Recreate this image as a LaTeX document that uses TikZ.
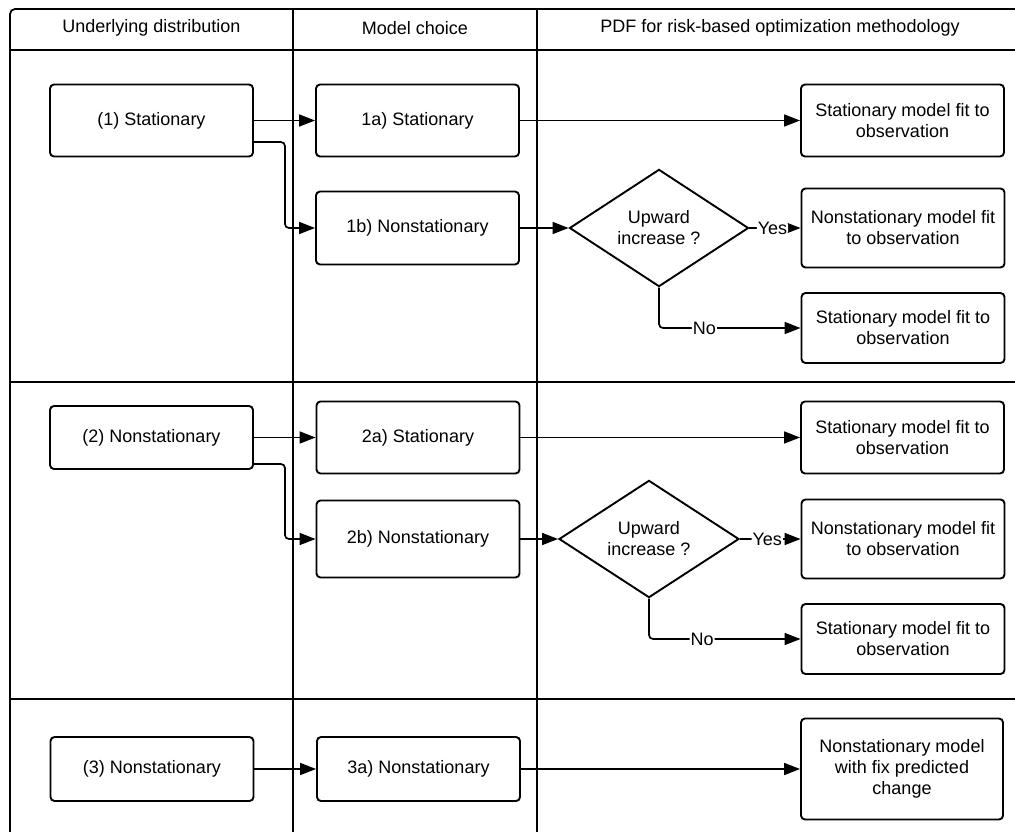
\documentclass[tikz,border=0pt]{standalone}
\usepackage{fontspec}
\setmainfont{Liberation Sans}
\usetikzlibrary{arrows.meta,shapes.geometric}

\tikzset{
  lane/.style={draw=black, line width=1.8bp, rounded corners=5bp},
  rule/.style={draw=black, line width=1.8bp},
  stepbox/.style={draw=black, line width=1.9bp, rounded corners=4bp, fill=white,
    align=center, inner sep=0pt, minimum width=203bp},
  decision/.style={draw=black, line width=1.9bp, diamond, fill=white,
    align=center, inner sep=0pt},
  conn/.style={draw=black, line width=1.7bp, rounded corners=4bp,
    -{Triangle[length=16bp,width=12bp]}},
  tag/.style={fill=white, inner sep=1bp},
  head/.style={inner sep=0pt}
}

\begin{document}
\begin{tikzpicture}[x=1bp, y=-1bp, font=\fontsize{18bp}{21bp}\selectfont]
  \useasboundingbox[fill=white] (0,0) rectangle (1015,832);

  % outer frame, lane separators and column rules
  \draw[lane] (10,9) rectangle (1022,860);
  \draw[rule] (10,382) -- (1022,382);
  \draw[rule] (10,699) -- (1022,699);
  \draw[rule] (10,50) -- (1022,50);
  \draw[rule] (293,9) -- (293,860);
  \draw[rule] (537,9) -- (537,860);

  % column headings
  \node[head] (h1) at (151.5,28) {Underlying distribution};
  \node[head] (h2) at (415,28) {Model choice};
  \node[head] (h3) at (780,28) {PDF for risk-based optimization methodology};

  % lane 1
  \node[stepbox, minimum height=72bp] (s1) at (151.5,120.5) {(1) Stationary};
  \node[stepbox, minimum height=72bp] (a1) at (417.5,120.5) {1a) Stationary};
  \node[stepbox, minimum height=72bp] (t1a) at (902.5,120.5) {Stationary model fit to\\observation};
  \node[stepbox, minimum height=73bp] (b1) at (417.5,228) {1b) Nonstationary};
  \node[decision, minimum width=179bp, minimum height=108bp] (d1) at (659,228) {Upward\\increase ?};
  \node[stepbox, minimum height=79bp] (t1y) at (903,228) {Nonstationary model fit\\to observation};
  \node[stepbox, minimum height=70bp] (t1n) at (903,328) {Stationary model fit to\\observation};

  \draw[conn] (s1.east) -- (a1.west);
  \draw[conn] ([yshift=-21.5bp]s1.east) -- ++(31,0) |- (b1.west);
  \draw[conn] (a1.east) -- (t1a.west);
  \draw[conn] (b1.east) -- (d1.west);
  \draw[conn] (d1.east) -- node[tag, pos=0.45] {Yes} (t1y.west);
  \draw[conn] (d1.south) -- (d1.south |- t1n.west) -- node[tag, pos=0.32] {No} (t1n.west);

  % lane 2
  \node[stepbox, minimum height=63bp] (s2) at (151.5,437.5) {(2) Nonstationary};
  \node[stepbox, minimum height=72bp] (a2) at (418,437.5) {2a) Stationary};
  \node[stepbox, minimum height=72bp] (t2a) at (902.5,437.5) {Stationary model fit to\\observation};
  \node[stepbox, minimum height=77bp] (b2) at (418,539) {2b) Nonstationary};
  \node[decision, minimum width=180bp, minimum height=110bp] (d2) at (649,539) {Upward\\increase ?};
  \node[stepbox, minimum height=79bp] (t2y) at (903,539) {Nonstationary model fit\\to observation};
  \node[stepbox, minimum height=70bp] (t2n) at (903,639) {Stationary model fit to\\observation};

  \draw[conn] (s2.east) -- (a2.west);
  \draw[conn] ([yshift=-26.5bp]s2.east) -- ++(31,0) |- (b2.west);
  \draw[conn] (a2.east) -- (t2a.west);
  \draw[conn] (b2.east) -- (d2.west);
  \draw[conn] (d2.east) -- node[tag, pos=0.45] {Yes} (t2y.west);
  \draw[conn] (d2.south) -- (d2.south |- t2n.west) -- node[tag, pos=0.35] {No} (t2n.west);

  % lane 3
  \node[stepbox, minimum height=64bp] (s3) at (152,769) {(3) Nonstationary};
  \node[stepbox, minimum height=64bp] (a3) at (418.5,769) {3a) Nonstationary};
  \node[stepbox, minimum height=101bp, minimum width=202bp] (t3) at (902,769) {Nonstationary model\\with fix predicted\\change};

  \draw[conn] (s3.east) -- (a3.west);
  \draw[conn] (a3.east) -- (t3.west);
\end{tikzpicture}
\end{document}
